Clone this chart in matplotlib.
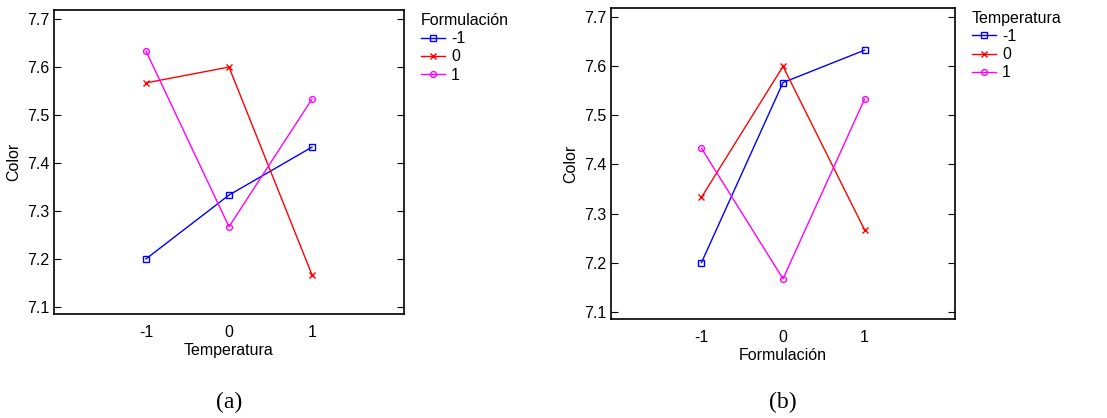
import numpy as np
import matplotlib
matplotlib.use('Agg')
import matplotlib.pyplot as plt

plt.rcParams['font.family'] = ['Liberation Sans', 'DejaVu Sans']

levels = [-1, 0, 1]
level_labels = ['-1', '0', '1']

# panel (a): Color vs Temperatura, one line per Formulacion
color_a = {
    '-1': [7.200, 7.333, 7.433],
    '0': [7.567, 7.600, 7.167],
    '1': [7.633, 7.267, 7.533],
}
# panel (b): Color vs Formulacion, one line per Temperatura
color_b = {
    '-1': [7.200, 7.567, 7.633],
    '0': [7.333, 7.600, 7.267],
    '1': [7.433, 7.167, 7.533],
}

line_colors = ['#0000ff', '#ff0000', '#ff00ff']
markers = ['s', 'x', 'o']

W, H = 1107, 418
fig = plt.figure(figsize=(W / 100, H / 100), dpi=100)


def make_panel(rect, data, xlabel, leg_title, caption, cap_x):
    ax = fig.add_axes(rect)
    for i, key in enumerate(level_labels):
        ax.plot(levels, data[key], color=line_colors[i], marker=markers[i],
                markersize=4.2, markerfacecolor='none', markeredgewidth=1.0,
                linewidth=1.0, label=key)
    ax.set_xlim(-2.11, 2.11)
    ax.set_ylim(7.085, 7.719)
    ax.set_xticks(levels)
    ax.set_xticklabels(level_labels)
    ax.set_yticks([7.1, 7.2, 7.3, 7.4, 7.5, 7.6, 7.7])
    ax.tick_params(axis='y', direction='in', length=5, right=True, labelsize=11.5)
    ax.tick_params(axis='x', length=0, labelsize=11.5, pad=8)
    for s in ax.spines.values():
        s.set_linewidth(1.2)
    ax.set_xlabel(xlabel, fontsize=11.5, labelpad=2)
    ax.set_ylabel('Color', fontsize=11.5, labelpad=4)
    leg = ax.legend(title=leg_title, loc='upper left', bbox_to_anchor=(1.03, 1.01),
                    frameon=False, fontsize=11.5, title_fontsize=11.5,
                    handlelength=1.5, handletextpad=0.4, labelspacing=0.2,
                    borderaxespad=0.0, alignment='left')
    leg._legend_box.align = 'left'
    leg._legend_box.sep = 2
    fig.text(cap_x / W, 1 - 402 / H, caption, family='Liberation Serif',
             fontsize=17, ha='center', va='center')
    return ax


make_panel([54 / W, 1 - 314 / H, 350 / W, 304 / H], color_a,
           'Temperatura', 'Formulación', '(a)', 229)
make_panel([611 / W, 1 - 319 / H, 344 / W, 311 / H], color_b,
           'Formulación', 'Temperatura', '(b)', 783)

fig.savefig('out.png', dpi=100)
